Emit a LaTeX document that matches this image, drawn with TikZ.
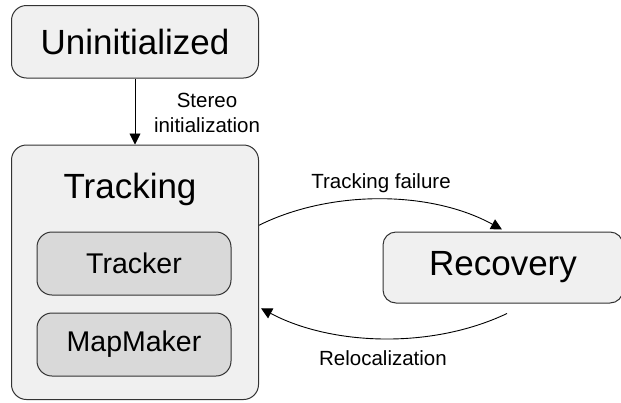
\documentclass[tikz,border=0pt]{standalone}
\usepackage{fontspec}
\setmainfont{Liberation Sans}
\usetikzlibrary{arrows.meta}
\definecolor{boxfill}{HTML}{F0F0F0}
\definecolor{innerfill}{HTML}{D9D9D9}
\definecolor{linecol}{HTML}{333333}
\tikzset{
  statebox/.style={draw=linecol, line width=1pt, fill=boxfill, rounded corners=15pt, inner sep=0pt},
  innerbox/.style={draw=linecol, line width=1pt, fill=innerfill, rounded corners=15pt, inner sep=0pt},
  bigtext/.style={font=\fontsize{35}{40}\selectfont},
  midtext/.style={font=\fontsize{28.5}{34}\selectfont},
  smalltext/.style={font=\fontsize{20.5}{24.5}\selectfont, align=center},
  conn/.style={draw=black, line width=0.9pt, -{Triangle[length=11pt,width=11pt]}}
}
\begin{document}
\begin{tikzpicture}[x=1pt,y=-1pt]
\useasboundingbox (0,0) rectangle (621,402);
\clip (0,0) rectangle (621,402);
% boxes
\node[statebox, bigtext, minimum width=247pt, minimum height=72.5pt] (uninit) at (135,41.75) {Uninitialized};
\node[statebox, minimum width=247pt, minimum height=254.5pt] (trk) at (135,272.25) {};
\node[bigtext, anchor=base] (trklabel) at (130,198) {Tracking};
\node[innerbox, midtext, minimum width=194pt, minimum height=63pt] (tracker) at (134,263.5) {Tracker};
\node[innerbox, midtext, minimum width=194pt, minimum height=63pt] (mapmaker) at (134,344.5) {MapMaker};
\node[statebox, bigtext, rounded corners=13pt, minimum width=240pt, minimum height=71pt] (rec) at (503,267.5) {Recovery};
% connectors
\draw[conn] (uninit.south) -- (trk.north);
\node[smalltext] (stereo) at (207,113) {Stereo\\initialization};
\draw[conn] ([yshift=47pt]trk.east) .. controls (330,190) and (430,190) .. ([xshift=-1pt,yshift=2pt]rec.north);
\node[smalltext] (failure) at (381,183) {Tracking failure};
\draw[conn] ([xshift=4pt,yshift=-10pt]rec.south) .. controls (430,350) and (330,345) .. ([xshift=2pt,yshift=-36pt]trk.east);
\node[smalltext] (reloc) at (383,358) {Relocalization};
\end{tikzpicture}
\end{document}
